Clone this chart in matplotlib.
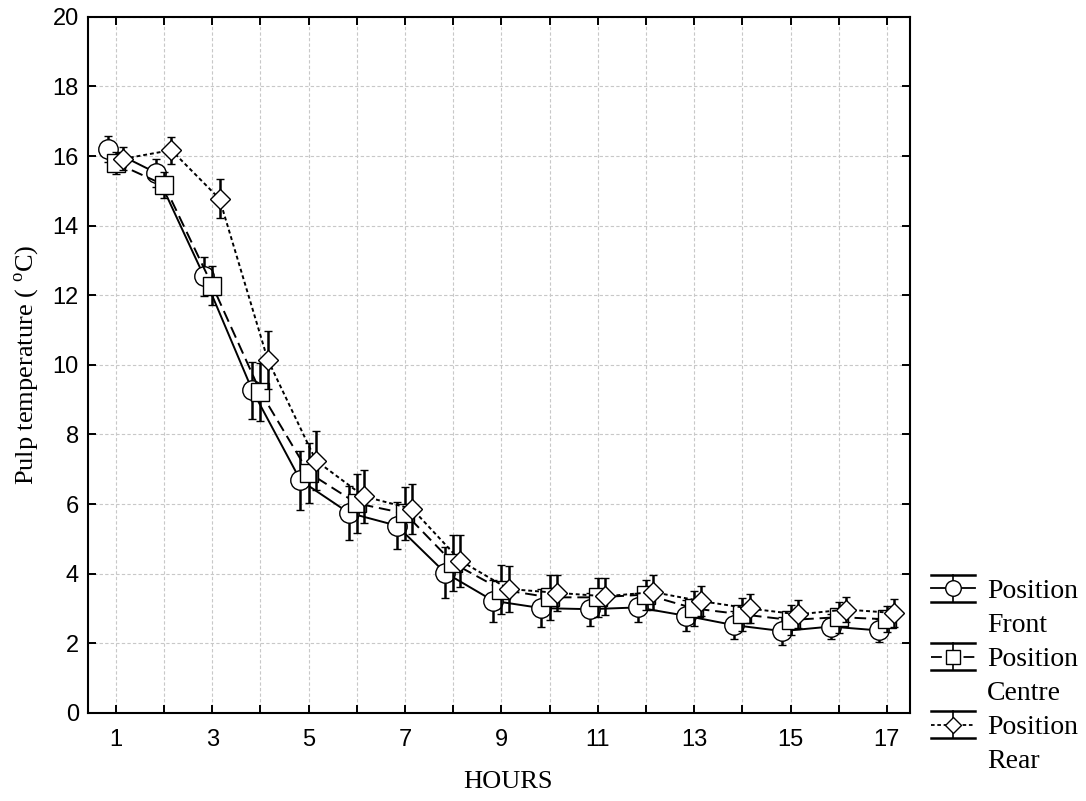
import numpy as np
import matplotlib
matplotlib.use("Agg")
import matplotlib.pyplot as plt
from matplotlib.lines import Line2D
from matplotlib.legend_handler import HandlerBase

plt.rcParams["mathtext.fontset"] = "custom"
plt.rcParams["mathtext.rm"] = "Liberation Serif"

# Pulp temperature per hour, mean and error for each pallet position
hours = np.arange(1, 18)
front = [16.21, 15.52, 12.54, 9.27, 6.68, 5.75, 5.38, 4.03, 3.22, 3.01, 2.98, 3.03, 2.79, 2.52, 2.35, 2.48, 2.37]
front_err = [0.37, 0.40, 0.55, 0.82, 0.84, 0.77, 0.67, 0.73, 0.60, 0.55, 0.47, 0.41, 0.45, 0.41, 0.40, 0.36, 0.32]
centre = [15.80, 15.17, 12.28, 9.22, 6.90, 6.02, 5.73, 4.30, 3.54, 3.32, 3.32, 3.40, 3.00, 2.83, 2.67, 2.75, 2.69]
centre_err = [0.33, 0.38, 0.55, 0.84, 0.86, 0.84, 0.76, 0.80, 0.70, 0.65, 0.56, 0.43, 0.50, 0.47, 0.44, 0.45, 0.38]
rear = [15.92, 16.17, 14.77, 10.15, 7.25, 6.22, 5.86, 4.37, 3.56, 3.45, 3.35, 3.47, 3.21, 3.00, 2.83, 2.97, 2.87]
rear_err = [0.33, 0.39, 0.56, 0.83, 0.85, 0.77, 0.71, 0.74, 0.67, 0.52, 0.53, 0.50, 0.43, 0.42, 0.40, 0.35, 0.41]

series = [
    ("Front", front, front_err, "o", 14, "-", -0.17),
    ("Centre", centre, centre_err, "s", 13, (0, (6, 3)), 0.0),
    ("Rear", rear, rear_err, "D", 10, (0, (2, 1.5)), 0.15),
]


class ErrHandler(HandlerBase):
    # legend key: line with marker between two horizontal bars
    def __init__(self, marker, ms, ls):
        super().__init__()
        self.marker, self.ms, self.ls = marker, ms, ls

    def create_artists(self, legend, orig, xd, yd, w, h, fs, trans):
        x0, x1 = -xd, -xd + w
        ymid = -yd + h / 2
        top = ymid + h * 0.7
        bot = ymid - h * 0.7
        xc = (x0 + x1) / 2
        arts = [
            Line2D([x0, x1], [top, top], color="k", lw=1.8),
            Line2D([x0, x1], [bot, bot], color="k", lw=1.8),
            Line2D([xc, xc], [bot, top], color="k", lw=1.2),
            Line2D([x0, x1], [ymid, ymid], color="k", lw=1.3, linestyle=self.ls),
            Line2D([xc], [ymid], marker=self.marker, ms=self.ms * 0.8,
                   mfc="white", mec="k", mew=1.0, linestyle="none"),
        ]
        for a in arts:
            a.set_transform(trans)
        return arts


class BlankHandler(HandlerBase):
    def create_artists(self, legend, orig, xd, yd, w, h, fs, trans):
        a = Line2D([], [], linestyle="none")
        a.set_transform(trans)
        return [a]


fig = plt.figure(figsize=(10.86, 8.01), dpi=100)
ax = fig.add_axes([0.081, 0.110, 0.757, 0.869])

handles, labels, hmap = [], [], {}
for i, (name, vals, errs, mk, ms, ls, dx) in enumerate(series):
    ax.errorbar(hours + dx, vals, yerr=errs, color="k", lw=1.4, linestyle=ls,
                marker=mk, ms=ms, mfc="white", mec="k", mew=1.0,
                ecolor="k", elinewidth=1.8, capsize=3, capthick=1.8,
                zorder=3 + i)
    h = Line2D([], [])
    b = Line2D([], [])
    hmap[h] = ErrHandler(mk, ms, ls)
    hmap[b] = BlankHandler()
    handles += [h, b]
    labels += ["Position", name]

ax.set_xlim(0.42, 17.48)
ax.set_ylim(0, 20)
ax.set_xticks(hours)
ax.set_xticklabels([str(h) if h % 2 else "" for h in hours])
ax.set_yticks(np.arange(0, 21, 2))
ax.tick_params(direction="in", top=True, right=True, length=6, width=1.4,
               labelsize=17)
ax.tick_params(axis="y", pad=6.5)
ax.tick_params(axis="x", pad=11.5)
for lab in ax.get_xticklabels() + ax.get_yticklabels():
    lab.set_fontfamily("Liberation Sans")
ax.grid(True, color="#c8c8c8", linestyle=(0, (3, 2)), lw=0.8)
ax.set_axisbelow(True)
for sp in ax.spines.values():
    sp.set_linewidth(1.5)

ax.set_xlabel("HOURS", family="Liberation Serif", fontsize=19, labelpad=17)
ax.xaxis.set_label_coords(0.511, -0.083)
ax.set_ylabel("Pulp temperature ( $^{\\mathrm{o}}$C)", family="Liberation Serif",
              fontsize=19, labelpad=8)

fig.legend(handles, labels, handler_map=hmap, loc="upper left",
           bbox_to_anchor=(0.857, 0.2775), frameon=False,
           prop={"family": "Liberation Serif", "size": 20},
           handlelength=1.6, handletextpad=0.43, labelspacing=0.31,
           borderaxespad=0, borderpad=0)

fig.savefig("out.png", dpi=100)
